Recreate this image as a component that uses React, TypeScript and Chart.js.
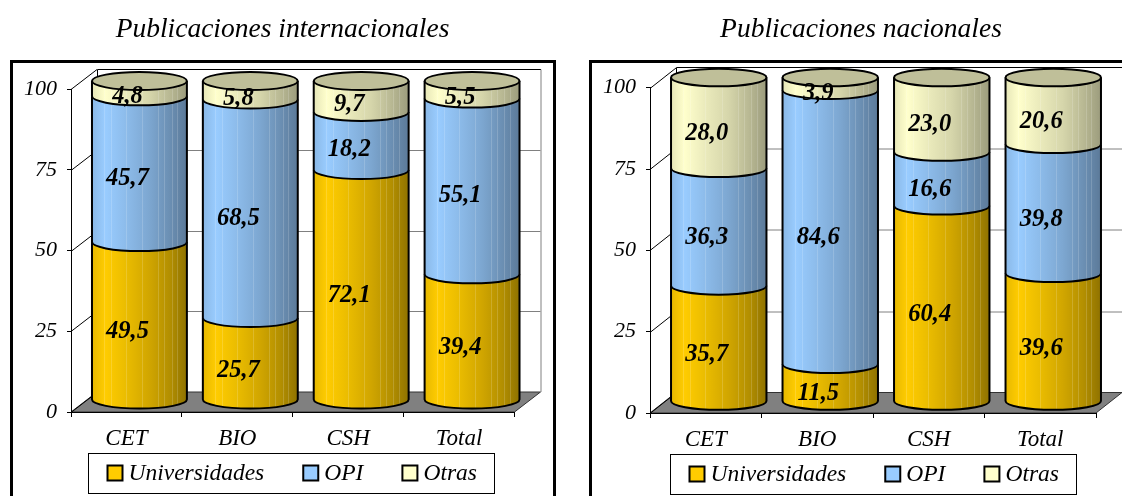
import { useEffect, useRef } from "react";
import { Chart, registerables } from "chart.js";

Chart.register(...registerables);

const FONT = '"Liberation Serif", serif';

const categories = ["CET", "BIO", "CSH", "Total"];
const seriesNames = ["Universidades", "OPI", "Otras"];

const internacionalesUniversidades = [49.5, 25.7, 72.1, 39.4];
const internacionalesOpi = [45.7, 68.5, 18.2, 55.1];
const internacionalesOtras = [4.8, 5.8, 9.7, 5.5];

const nacionalesUniversidades = [35.7, 11.5, 60.4, 39.6];
const nacionalesOpi = [36.3, 84.6, 16.6, 39.8];
const nacionalesOtras = [28.0, 3.9, 23.0, 20.6];

const swatchColors = ["#FFCC00", "#99CCFF", "#FFFFCC"];
const bodyStops = [
  ["#E6B800", "#FFCC00", "#EBBD00", "#D1A600", "#B38F00", "#8F7200"],
  ["#8AB8E6", "#99CCFF", "#8DBCEB", "#7DA7D1", "#6B8FB3", "#5C7A99"],
  ["#E6E6B8", "#FFFFCC", "#EBEBBC", "#D6D6AB", "#B8B893", "#9C9C7D"],
];
const capColor = "#BFBF99";
const stripeAt = [0.13, 0.2, 0.36, 0.53, 0.7, 0.76, 0.84, 0.9];

type Panel = {
  title: string;
  left: number;
  width: number;
  series: number[][];
  area: { left: number; top: number; right: number; bottom: number };
  depth: { x: number; y: number };
  cylinder: { base: number; ratio: number; ry: number };
  legendBox: { left: number; top: number; right: number; bottom: number };
  frame: { left: number; top: number; right: number };
};

// Geometry is expressed in each canvas' own coordinates.
const panels: Panel[] = [
  {
    title: "Publicaciones internacionales",
    left: 0,
    width: 565,
    series: [internacionalesUniversidades, internacionalesOpi, internacionalesOtras],
    area: { left: 71, top: 89, right: 514.5, bottom: 412 },
    depth: { x: 26, y: 20 },
    cylinder: { base: 400, ratio: 319 / 323, ry: 9 },
    legendBox: { left: 88.5, top: 453.5, right: 494.5, bottom: 493.5 },
    frame: { left: 11.5, top: 61.5, right: 554.5 },
  },
  {
    title: "Publicaciones nacionales",
    left: 575,
    width: 572,
    series: [nacionalesUniversidades, nacionalesOpi, nacionalesOtras],
    area: { left: 75, top: 87.7, right: 521, bottom: 413 },
    depth: { x: 26, y: 20.5 },
    cylinder: { base: 401.5, ratio: 324 / 325.3, ry: 8.8 },
    legendBox: { left: 95.5, top: 454.5, right: 501.5, bottom: 494.5 },
    frame: { left: 15.5, top: 61.5, right: 600 },
  },
];

function formatValue(v: number) {
  return v.toFixed(1).replace(".", ",");
}

function cylinderPlugin(panel: Panel) {
  const { area, depth, cylinder, legendBox, frame } = panel;
  return {
    id: "cylinder3d",
    afterLayout(chart: any) {
      // The title is centred on the whole panel, not on the plot.
      chart.titleBlock.left = 0;
      chart.titleBlock.right = panel.width;
    },
    beforeDraw(chart: any) {
      const c = chart.ctx as CanvasRenderingContext2D;
      const y = chart.scales.y;
      const backLeft = area.left + depth.x;
      const backRight = area.right + depth.x;
      const backTop = area.top - depth.y;
      const backBottom = area.bottom - depth.y;
      c.save();
      c.fillStyle = "#fff";
      c.fillRect(0, 0, chart.width, chart.height);

      c.strokeStyle = "#000";
      c.lineWidth = 3;
      c.strokeRect(frame.left, frame.top, frame.right - frame.left, 600);

      // Floor of the plot box
      c.fillStyle = "#808080";
      c.beginPath();
      c.moveTo(area.left, area.bottom);
      c.lineTo(area.right, area.bottom);
      c.lineTo(backRight, backBottom);
      c.lineTo(backLeft, backBottom);
      c.closePath();
      c.fill();
      c.strokeStyle = "#333";
      c.lineWidth = 1;
      c.stroke();

      // Back wall gridlines and their slanted runs along the side wall
      y.ticks.forEach((t: any) => {
        const py = Math.round(y.getPixelForValue(t.value)) + 0.5;
        if (t.value > 0 && t.value < 100) {
          c.strokeStyle = "#808080";
          c.beginPath();
          c.moveTo(backLeft, py - depth.y);
          c.lineTo(backRight, py - depth.y);
          c.stroke();
        }
        c.strokeStyle = "#000";
        c.beginPath();
        c.moveTo(area.left, py);
        c.lineTo(backLeft, py - depth.y);
        c.stroke();
      });

      c.strokeStyle = "#000";
      c.beginPath();
      c.moveTo(backLeft + 0.5, backBottom);
      c.lineTo(backLeft + 0.5, Math.round(backTop) + 0.5);
      c.lineTo(backRight + 0.5, Math.round(backTop) + 0.5);
      c.stroke();
      c.strokeStyle = "#808080";
      c.beginPath();
      c.moveTo(backRight + 0.5, Math.round(backTop) + 0.5);
      c.lineTo(backRight + 0.5, backBottom);
      c.stroke();
      c.restore();
    },
    beforeDatasetDraw() {
      // Native flat bars are replaced by the cylinders painted below.
      return false;
    },
    afterDatasetsDraw(chart: any) {
      const c = chart.ctx as CanvasRenderingContext2D;
      const lift = (py: number) => cylinder.base - (area.bottom - py) * cylinder.ratio;
      const count = chart.data.labels.length;
      const last = chart.data.datasets.length - 1;

      for (let i = 0; i < count; i++) {
        chart.data.datasets.forEach((_: any, d: number) => {
          const bar = chart.getDatasetMeta(d).data[i];
          const rx = bar.width / 2;
          const cx = bar.x + depth.x / 2;
          const top = lift(bar.y);
          const bottom = lift(bar.base);
          const ry = cylinder.ry;

          const gradient = c.createLinearGradient(cx - rx, 0, cx + rx, 0);
          const stops = bodyStops[d];
          [0, 0.14, 0.35, 0.6, 0.82, 1].forEach((o, k) => gradient.addColorStop(o, stops[k]));

          c.save();
          c.beginPath();
          c.moveTo(cx - rx, top);
          c.lineTo(cx - rx, bottom);
          c.ellipse(cx, bottom, rx, ry, 0, Math.PI, 0, true);
          c.lineTo(cx + rx, top);
          c.ellipse(cx, top, rx, ry, 0, 0, Math.PI, true);
          c.closePath();
          c.fillStyle = gradient;
          c.fill();

          c.save();
          c.clip();
          c.strokeStyle = "rgba(255,255,255,0.16)";
          c.lineWidth = 1;
          stripeAt.forEach((f) => {
            const sx = Math.round(cx - rx + 2 * rx * f) + 0.5;
            c.beginPath();
            c.moveTo(sx, top - ry);
            c.lineTo(sx, bottom + ry);
            c.stroke();
          });
          c.restore();

          c.strokeStyle = "#000";
          c.lineWidth = 2;
          c.beginPath();
          c.moveTo(cx - rx, top);
          c.lineTo(cx - rx, bottom);
          c.ellipse(cx, bottom, rx, ry, 0, Math.PI, 0, true);
          c.lineTo(cx + rx, top);
          c.stroke();

          if (d === last) {
            c.beginPath();
            c.ellipse(cx, top, rx, ry, 0, 0, Math.PI * 2);
            c.fillStyle = capColor;
            c.fill();
            c.stroke();
          }
          c.restore();
        });
      }

      // Value labels sit on the front plane of the axis scale.
      c.save();
      c.font = `italic bold 24.5px ${FONT}`;
      c.fillStyle = "#000";
      c.textAlign = "center";
      c.textBaseline = "middle";
      chart.data.datasets.forEach((ds: any, d: number) => {
        chart.getDatasetMeta(d).data.forEach((bar: any, i: number) => {
          c.fillText(formatValue(ds.data[i]), bar.x + 1, (bar.y + bar.base) / 2);
        });
      });
      c.restore();

      // Legend box
      c.save();
      c.strokeStyle = "#000";
      c.lineWidth = 1;
      c.fillStyle = "#fff";
      const { left, top, right, bottom } = legendBox;
      c.fillRect(left, top, right - left, bottom - top);
      c.strokeRect(left, top, right - left, bottom - top);
      c.font = `italic 23.5px ${FONT}`;
      c.textBaseline = "middle";
      c.textAlign = "left";
      const midY = (top + bottom) / 2;
      let lx = left + 19;
      chart.data.datasets.forEach((ds: any, d: number) => {
        c.fillStyle = swatchColors[d];
        c.fillRect(lx, midY - 8, 15, 15);
        c.lineWidth = 2;
        c.strokeRect(lx, midY - 8, 15, 15);
        c.fillStyle = "#000";
        c.fillText(ds.label, lx + 21, midY);
        lx += 21 + c.measureText(ds.label).width + 39;
      });
      c.restore();
    },
  };
}

function PanelChart({ panel }: { panel: Panel }) {
  const ref = useRef<HTMLCanvasElement>(null);

  useEffect(() => {
    const chart = new Chart(ref.current as HTMLCanvasElement, {
      type: "bar",
      data: {
        labels: categories,
        datasets: panel.series.map((data, d) => ({
          label: seriesNames[d],
          data,
          backgroundColor: swatchColors[d],
          categoryPercentage: 1,
          barPercentage: 0.856,
        })),
      },
      plugins: [cylinderPlugin(panel)],
      options: {
        responsive: false,
        animation: false,
        layout: { padding: { left: 0, top: 0, bottom: 0, right: panel.width - panel.area.right } },
        plugins: {
          legend: { display: false },
          tooltip: { enabled: false },
          title: {
            display: true,
            text: panel.title,
            color: "#000",
            font: { family: FONT, size: 27.5, style: "italic", weight: "normal", lineHeight: 1.2 },
            padding: { top: 13.5, bottom: panel.area.top - 46.5 },
          },
        },
        scales: {
          x: {
            stacked: true,
            afterFit: (s: any) => {
              s.height = 496 - panel.area.bottom;
            },
            grid: { drawOnChartArea: false, color: "#000", tickLength: 5 },
            border: { color: "#000" },
            ticks: {
              color: "#000",
              padding: 8,
              maxRotation: 0,
              font: { family: FONT, size: 23, style: "italic" },
            },
          },
          y: {
            stacked: true,
            min: 0,
            max: 100,
            afterFit: (s: any) => {
              s.width = panel.area.left;
            },
            grid: { drawOnChartArea: false, color: "#000", tickLength: 4 },
            border: { color: "#000" },
            ticks: {
              stepSize: 25,
              color: "#000",
              padding: 10,
              font: { family: FONT, size: 22, style: "italic" },
            },
          },
        },
      } as any,
    });
    return () => chart.destroy();
  }, [panel]);

  return (
    <div style={{ position: "absolute", left: panel.left, top: 0 }}>
      <canvas ref={ref} width={panel.width} height={496} />
    </div>
  );
}

export default function App() {
  return (
    <div
      style={{
        position: "fixed",
        left: 0,
        top: 0,
        width: 1122,
        height: 496,
        overflow: "hidden",
        background: "#fff",
      }}
    >
      {panels.map((p) => (
        <PanelChart key={p.title} panel={p} />
      ))}
    </div>
  );
}
